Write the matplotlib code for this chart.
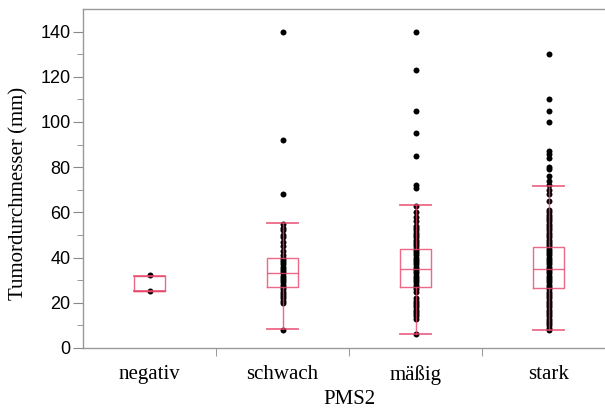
import numpy as np
import matplotlib
matplotlib.use('Agg')
import matplotlib.pyplot as plt

# Kategorien und Werte (mm)
categories = ['negativ', 'schwach', 'mäßig', 'stark']

negativ = [32.3, 25.3]
schwach = [140, 92, 68, 55, 53, 52, 50, 49, 47, 45, 43, 41, 40, 39, 38, 37, 36,
           35, 34, 33, 32, 31, 30, 29, 28, 27, 26, 25, 24, 23, 22, 21, 20, 8]
maessig = [140, 123, 105, 95, 85, 72, 71, 63, 60, 58, 56, 54, 53, 52, 51, 50, 49,
           48, 47, 46, 45, 44, 43, 42, 41, 40, 39, 38, 37, 36, 35, 34, 33, 32, 31,
           30, 29, 28, 27, 26, 25, 22, 21, 20, 19, 18, 17, 16, 15, 14, 13, 6]
stark = [130, 110, 105, 100, 87, 86, 84, 80, 79, 76, 74, 72, 70, 68, 65, 61, 60,
         59, 58, 57, 56, 55, 54, 53, 52, 51, 50, 49, 48, 47, 46, 45, 44, 43, 42,
         41, 40, 39, 38, 37, 36, 35, 34, 33, 32, 31, 30, 29, 28, 27, 26, 25, 24,
         23, 22, 21, 20, 19, 18, 17, 16, 15, 14, 13, 12, 11, 10, 9, 8]
groups = [negativ, schwach, maessig, stark]

# Box-Kennwerte (Quartile, Median, Whisker)
q1 = [25.2, 26.9, 26.8, 26.4]
med = [25.2, 33.1, 34.9, 34.9]
q3 = [31.8, 39.9, 43.7, 44.8]
whislo = [25.2, 8.2, 6.3, 8.0]
whishi = [31.8, 55.1, 63.3, 71.9]

serif = ['Liberation Serif', 'DejaVu Serif']
sans = ['Liberation Sans', 'DejaVu Sans']

fig = plt.figure(figsize=(6.05, 4.09), dpi=100)
ax = fig.add_axes([83 / 605, 1 - 348 / 409, 532 / 605, 339 / 409])

for i, vals in enumerate(groups):
    ax.plot([i] * len(vals), vals, 'o', color='black', markersize=4.3,
            markeredgewidth=0, zorder=2)

stats = []
for i in range(len(categories)):
    stats.append({'q1': q1[i], 'med': med[i], 'q3': q3[i],
                  'whislo': whislo[i], 'whishi': whishi[i], 'fliers': []})

box_col = '#e8456a'
ax.bxp(stats, positions=range(len(categories)), widths=0.23, capwidths=0.23,
       showfliers=False, manage_ticks=False,
       boxprops=dict(color=box_col, linewidth=1, alpha=0.8),
       medianprops=dict(color=box_col, linewidth=1, alpha=0.8),
       whiskerprops=dict(color=box_col, linewidth=1, alpha=0.8),
       capprops=dict(color=box_col, linewidth=1.3, alpha=0.8))

ax.set_xlim(-0.5, 3.5)
ax.set_ylim(0, 150)

ax.set_yticks(np.arange(0, 141, 20))
ax.set_yticks(np.arange(10, 141, 20), minor=True)
ax.set_xticks(range(len(categories)))
ax.set_xticklabels(categories, fontfamily=serif, fontsize=15)
ax.set_xticks([0.5, 1.5, 2.5], minor=True)

for lab in ax.get_yticklabels():
    lab.set_fontfamily(sans)
    lab.set_fontsize(13)

ax.tick_params(axis='x', which='major', length=0, pad=12)
ax.tick_params(axis='x', which='minor', length=6, color='#888888')
ax.tick_params(axis='y', which='major', length=7, color='#888888', pad=2)
ax.tick_params(axis='y', which='minor', length=4, color='#888888')

for s in ax.spines.values():
    s.set_color('#999999')
    s.set_linewidth(1)

ax.set_ylabel('Tumordurchmesser (mm)', fontfamily=serif, fontsize=15)
ax.yaxis.set_label_coords(-0.102, 0.455)
ax.set_xlabel('PMS2', fontfamily=serif, fontsize=15, labelpad=4)

fig.savefig('out.png', dpi=100)
